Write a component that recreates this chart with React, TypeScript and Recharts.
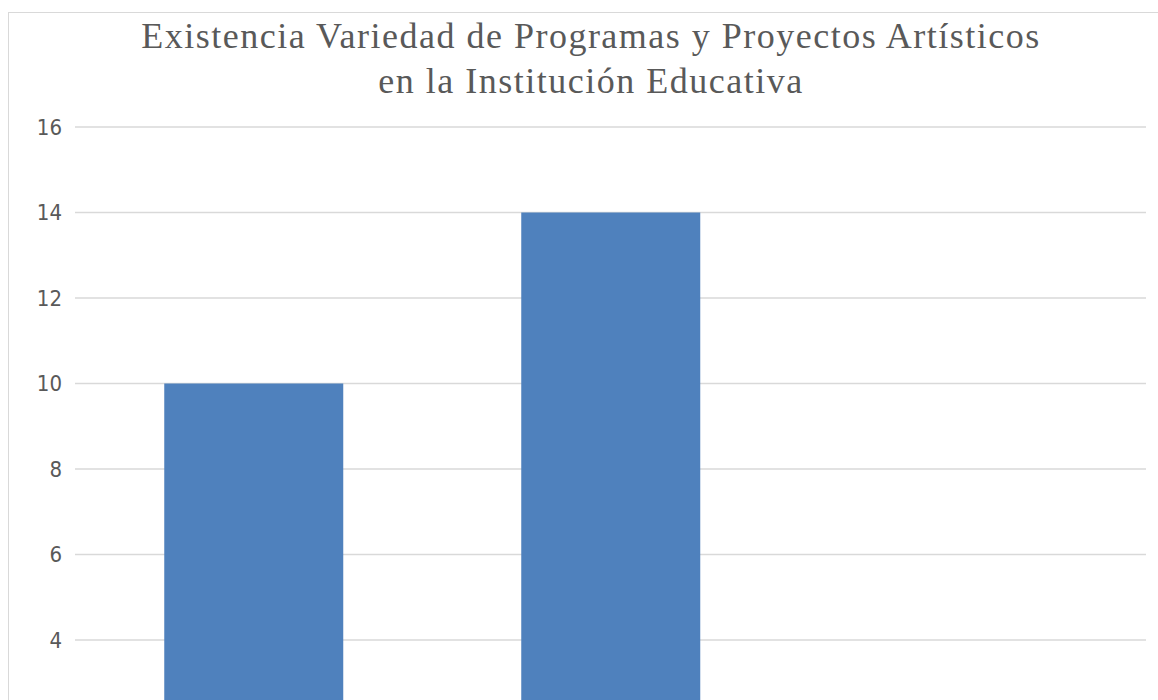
import React from 'react';
import { BarChart, Bar, XAxis, YAxis, CartesianGrid } from 'recharts';

const CATEGORIES = ['Sí', 'No', 'No sabe'];
const VALUES = [10, 14, 0];
// the lower ticks (0, 2) sit below the visible crop of the picture
const Y_TICKS = [4, 6, 8, 10, 12, 14, 16];
const TITLE_LINES = [
  'Existencia Variedad de Programas y Proyectos Artísticos',
  'en la Institución Educativa',
];

const data = CATEGORIES.map((name, i) => ({ name, value: VALUES[i] }));

const tickStyle = {
  fontSize: 22,
  fontFamily: '"Liberation Sans Narrow", "DejaVu Sans Condensed", sans-serif',
  fill: '#595959',
};

export default function App() {
  return (
    <div
      style={{
        position: 'fixed',
        left: 0,
        top: 0,
        width: 1158,
        height: 700,
        overflow: 'hidden',
        background: '#fff',
      }}
    >
      <div
        style={{
          position: 'absolute',
          left: 8,
          top: 12,
          width: 1170,
          height: 900,
          border: '1px solid #d9d9d9',
        }}
      />
      <div
        style={{
          position: 'absolute',
          left: 0,
          top: 14,
          width: 1182,
          textAlign: 'center',
          fontFamily: '"Liberation Serif", serif',
          fontSize: 36,
          letterSpacing: 1.5,
          lineHeight: '45px',
          color: '#595959',
        }}
      >
        {TITLE_LINES.map((t) => (
          <div key={t}>{t}</div>
        ))}
      </div>
      <div style={{ position: 'absolute', left: 0, top: 0 }}>
        <BarChart
          width={1158}
          height={851}
          data={data}
          margin={{ top: 127, right: 12, bottom: 40, left: 0 }}
          barCategoryGap="25%"
        >
          <CartesianGrid vertical={false} stroke="#d9d9d9" strokeWidth={1.5} />
          <XAxis dataKey="name" hide />
          <YAxis
            width={75}
            domain={[0, 16]}
            ticks={Y_TICKS}
            axisLine={false}
            tickLine={false}
            tickMargin={7}
            tick={tickStyle}
          />
          <Bar dataKey="value" fill="#4f81bd" isAnimationActive={false} />
        </BarChart>
      </div>
    </div>
  );
}
